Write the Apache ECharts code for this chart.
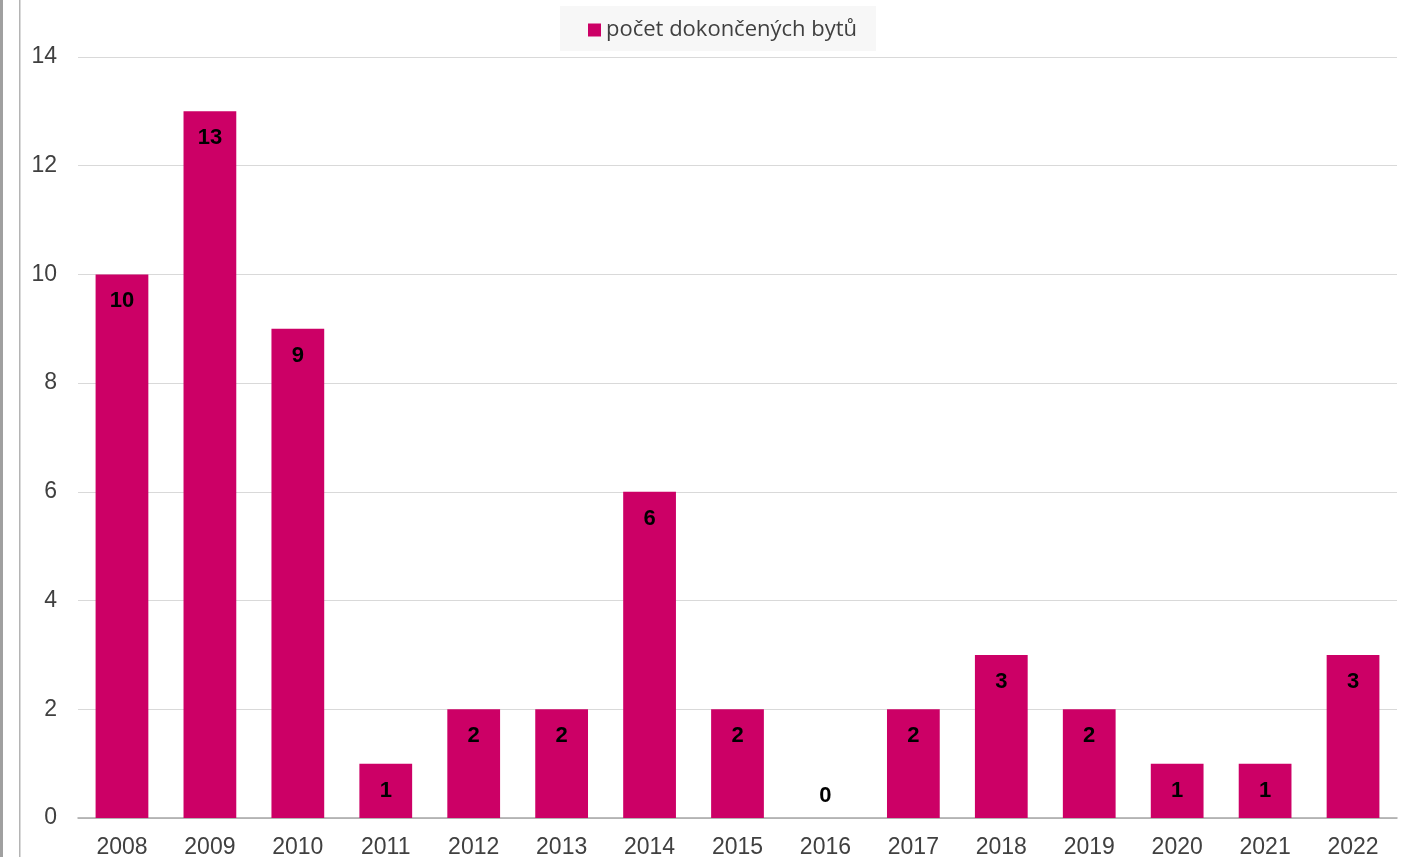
<!DOCTYPE html>
<html>
<head>
<meta charset="utf-8">
<script src="https://cdn.jsdelivr.net/npm/echarts@6/dist/echarts.min.js"></script>
<style>
html,body{margin:0;padding:0;background:#fff;}
#c{width:1408px;height:857px;}
</style>
</head>
<body>
<div id="c"></div>
<script>
const categories = ['2008','2009','2010','2011','2012','2013','2014','2015','2016','2017','2018','2019','2020','2021','2022'];
const values = [10,13,9,1,2,2,6,2,0,2,3,2,1,1,3];
const seriesName = 'počet dokončených bytů';

const chart = echarts.init(document.getElementById('c'));
chart.setOption({
  animation: false,
  backgroundColor: '#ffffff',
  graphic: [
    {type:'rect', shape:{x:0,y:0,width:3,height:857}, style:{fill:'#a0a0a0'}},
    {type:'rect', shape:{x:19,y:0,width:1.5,height:857}, style:{fill:'#b4b4b4'}}
  ],
  legend: {
    top: 6, left: 560,
    padding: [13, 19, 10, 28],
    backgroundColor: '#f7f7f7',
    itemWidth: 13, itemHeight: 13, itemGap: 8,
    icon: 'rect',
    textStyle: {fontFamily: 'Open Sans', fontSize: 22, color: '#404040'},
    data: [seriesName]
  },
  grid: {left: 78, right: 11, top: 57, bottom: 39, containLabel: false, outerBoundsMode: 'none'},
  xAxis: {
    type: 'category', data: categories,
    axisLine: {lineStyle: {color: '#a6a6a6', width: 1.5}},
    axisTick: {show: false},
    axisLabel: {fontFamily: 'Liberation Sans', fontSize: 23, color: '#404040', margin: 18}
  },
  yAxis: {
    type: 'value', min: 0, max: 14, interval: 2,
    axisLine: {show: false}, axisTick: {show: false},
    splitLine: {lineStyle: {color: '#d9d9d9', width: 1.2}},
    axisLabel: {fontFamily: 'Liberation Sans', fontSize: 23, color: '#404040', margin: 21, padding: [3, 0, 0, 0]}
  },
  series: [{
    name: seriesName, type: 'bar', barWidth: '60%',
    itemStyle: {color: '#cc0066'},
    data: values.map(v => v === 0
      ? {value: v, label: {position: 'top', distance: 11}}
      : v),
    label: {
      show: true, position: 'insideTop', distance: 16,
      fontFamily: 'Liberation Sans', fontWeight: 'bold', fontSize: 22, color: '#000'
    }
  }]
});
</script>
</body>
</html>
